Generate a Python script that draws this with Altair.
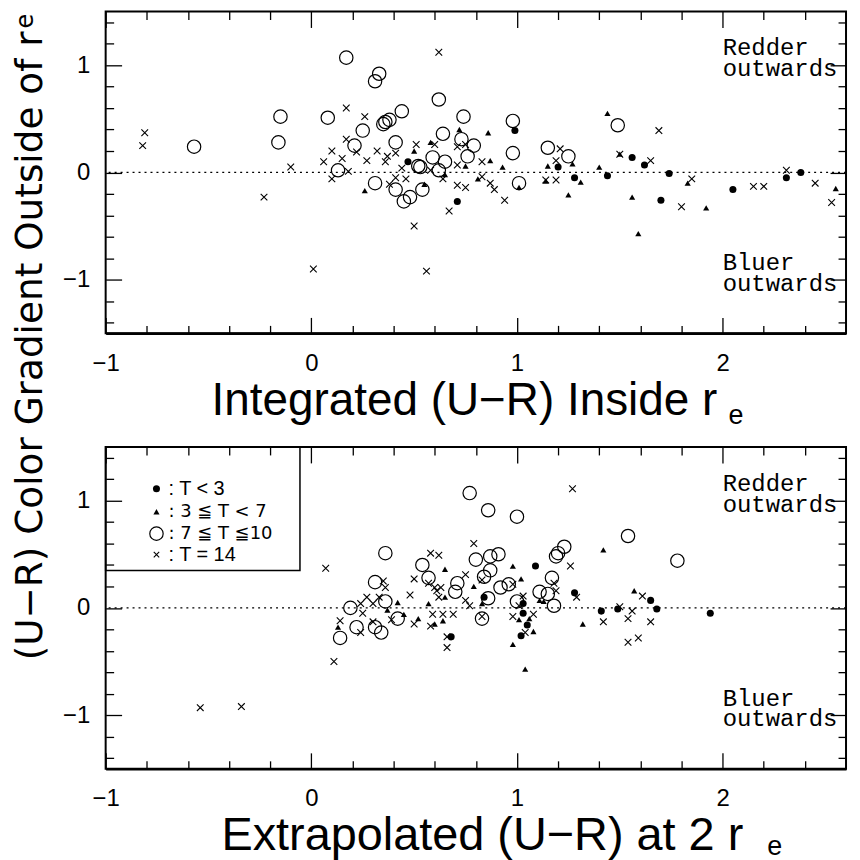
import altair as alt
import pandas as pd

# ---------------- data ----------------
# Top panel: Integrated (U-R) inside r_e  vs  colour gradient outside r_e
top_e_x = [0.47, 0.71, 0.99, 1.20, 1.28, 1.44, 1.56, 1.62, 1.74, 1.70, 2.05, 2.31, 2.38]
top_e_y = [0.10, -0.27, 0.39, 0.05, -0.05, -0.03, 0.14, 0.07, -0.01, -0.26, -0.16, -0.05, 0.00]

top_s_x = [0.26, 0.50, 0.55, 0.58, 0.65, 0.72, 0.75, 0.81, 0.86, 0.87, 0.93, 1.01, 1.14,
           1.15, 1.25, 1.27, 1.31, 1.40, 1.44, 1.50, 1.56, 1.59, 1.83, 1.92, 2.55]
top_s_y = [-0.17, 0.20, -0.11, 0.28, -0.02, 0.40, 0.06, -0.06, 0.37, 0.11, 0.05, -0.14, -0.08,
           0.06, -0.21, 0.08, -0.09, 0.05, 0.55, 0.17, -0.23, -0.57, -0.10, -0.33, -0.15]

top_l_x = [-0.57, -0.16, -0.15, 0.08, 0.13, 0.17, 0.21, 0.25, 0.31, 0.31, 0.33, 0.35, 0.36,
           0.38, 0.41, 0.41, 0.44, 0.45, 0.48, 0.52, 0.53, 0.54, 0.59, 0.62, 0.62, 0.64,
           0.65, 0.73, 0.74, 0.76, 0.79, 0.98, 0.98, 1.01, 1.15, 1.25, 1.49]
top_l_y = [0.24, 0.28, 0.52, 0.51, 0.02, 1.07, 0.25, 0.39, -0.10, 0.85, 0.92, 0.45, 0.47,
           0.49, 0.28, -0.16, 0.57, -0.27, -0.23, 0.06, 0.05, -0.16, 0.14, 0.68, 0.02, 0.36,
           0.10, 0.31, 0.52, 0.15, 0.25, 0.48, 0.18, -0.10, 0.23, 0.15, 0.44]

top_i_x = [-0.81, -0.82, -0.23, -0.10, 0.01, 0.06, 0.10, 0.10, 0.15, 0.17, 0.17, 0.18, 0.22,
           0.26, 0.27, 0.32, 0.36, 0.37, 0.38, 0.41, 0.41, 0.44, 0.46, 0.50, 0.51, 0.56,
           0.58, 0.60, 0.62, 0.64, 0.67, 0.71, 0.71, 0.71, 0.75, 0.75, 0.83, 0.83, 0.87,
           0.89, 0.94, 1.14, 1.19, 1.19, 1.21, 1.50, 1.65, 1.69, 1.80, 1.85, 2.15, 2.20,
           2.31, 2.45, 2.53]
top_i_y = [0.37, 0.25, -0.23, 0.05, -0.90, 0.10, 0.20, -0.06, 0.13, 0.60, 0.31, 0.01, 0.19,
           0.52, 0.11, 0.20, 0.10, 0.15, -0.11, 0.18, -0.05, 0.04, -0.06, -0.50, 0.26, -0.92,
           0.02, 0.26, 1.12, -0.06, -0.36, 0.07, -0.12, 0.24, -0.14, 0.26, 0.10, -0.04, -0.10,
           -0.16, -0.26, -0.07, -0.07, 0.11, 0.22, 0.17, 0.11, 0.39, -0.32, -0.06, -0.13, -0.13,
           0.02, -0.10, -0.28]

# Bottom panel: Extrapolated (U-R) at 2 r_e
bot_e_x = [0.68, 0.84, 1.09, 1.03, 1.03, 1.05, 1.02, 1.28, 1.41, 1.49, 1.65, 1.68, 1.94]
bot_e_y = [-0.27, 0.10, 0.39, 0.04, -0.05, -0.16, -0.26, 0.14, -0.03, -0.01, 0.07, -0.01, -0.05]

bot_s_x = [0.13, 0.37, 0.42, 0.45, 0.52, 0.57, 0.60, 0.64, 0.65, 0.65, 0.79, 0.83, 0.98,
           1.02, 1.01, 1.06, 0.98, 1.04, 1.08, 1.11, 1.13, 1.32, 1.42, 1.57]
bot_s_y = [-0.18, -0.02, 0.05, -0.06, -0.10, 0.04, -0.15, -0.12, 0.10, 0.36, 0.20, 0.04, 0.39,
           0.27, -0.11, -0.10, -0.34, -0.57, -0.22, 0.07, 0.06, -0.15, 0.54, 0.16]

bot_l_x = [0.14, 0.19, 0.22, 0.31, 0.34, 0.31, 0.36, 0.36, 0.42, 0.54, 0.57, 0.70, 0.71,
           0.77, 0.80, 0.83, 0.86, 1.00, 0.87, 0.91, 0.87, 0.84, 0.86, 0.92, 0.96, 1.00,
           1.17, 1.11, 1.15, 1.18, 1.19, 1.20, 1.23, 1.54, 1.78]
bot_l_y = [-0.28, 0.00, -0.18, -0.18, -0.23, 0.24, 0.06, 0.51, -0.10, 0.40, 0.28, 0.15, 0.23,
           1.07, 0.45, -0.10, 0.91, 0.85, 0.48, 0.50, 0.35, 0.29, 0.09, 0.19, 0.22, 0.06,
           0.28, 0.15, 0.13, 0.02, 0.48, 0.51, 0.57, 0.67, 0.44]

bot_i_x = [-0.54, -0.34, 0.07, 0.11, 0.14, 0.24, 0.25, 0.24, 0.27, 0.30, 0.30, 0.33, 0.35,
           0.36, 0.39, 0.48, 0.50, 0.50, 0.58, 0.62, 0.57, 0.60, 0.61, 0.63, 0.62, 0.59,
           0.64, 0.69, 0.58, 0.66, 0.66, 0.75, 0.75, 0.77, 0.79, 0.83, 0.83, 0.98, 1.03,
           0.98, 1.01, 1.08, 1.04, 1.27, 1.26, 1.18, 1.19, 1.29, 1.42, 1.50, 1.56, 1.54,
           1.61, 1.65, 1.54, 1.59]
bot_i_y = [-0.93, -0.92, 0.37, -0.50, -0.12, 0.04, -0.05, -0.23, 0.10, 0.04, -0.13, 0.10, 0.25,
           0.19, -0.11, 0.12, 0.27, -0.15, 0.51, 0.49, 0.23, 0.19, 0.16, 0.19, 0.10, -0.06,
           -0.06, -0.06, -0.17, -0.37, -0.27, 0.31, 0.07, 0.02, 0.60, 0.26, -0.08, 0.22, 0.11,
           -0.08, 0.02, -0.06, -0.23, 1.11, 0.39, 0.23, 0.16, 0.10, -0.13, 0.01, -0.03, -0.10,
           0.11, -0.13, -0.32, -0.28]

x_major = [-1, 0, 1, 2]
x_minor = [-0.8, -0.6, -0.4, -0.2, 0.2, 0.4, 0.6, 0.8, 1.2, 1.4, 1.6, 1.8, 2.2, 2.4]
y_major = [-1, 0, 1]
y_minor = [-1.4, -1.2, -0.8, -0.6, -0.4, -0.2, 0.2, 0.4, 0.6, 0.8, 1.2, 1.4]

legend_labels = [": T < 3", ":  3  \u2266  T  <  7", ":  7  \u2266  T  \u226610", ": T = 14"]
redder_text = ["Redder", "outwards"]
bluer_text = ["Bluer", "outwards"]

CROSS = "M-1,-1L1,1M-1,1L1,-1"
W, H = 743, 323

xsc = alt.Scale(domain=[-1, 2.6], nice=False, zero=False)
ysc = alt.Scale(domain=[-1.5, 1.5], nice=False, zero=False)
one = pd.DataFrame({"x": [0.0], "y": [0.0]})

NARROW = "Liberation Sans"
WIDE = "DejaVu Sans"
MONO = "Liberation Mono"


def pts(xs, ys, **mk):
    return alt.Chart(pd.DataFrame({"x": xs, "y": ys})).mark_point(opacity=1, color="black", **mk).encode(
        x=alt.X("x:Q", scale=xsc, axis=None),
        y=alt.Y("y:Q", scale=ysc, axis=None),
    )


def axis_layer(xaxis, yaxis):
    return alt.Chart(one).mark_point(opacity=0).encode(
        x=alt.X("x:Q", scale=xsc, axis=xaxis),
        y=alt.Y("y:Q", scale=ysc, axis=yaxis),
    )


def tick_axis(orient, values, size):
    return alt.Axis(orient=orient, values=values, labels=False, domain=False, ticks=True,
                    tickSize=size, tickWidth=1.3, tickColor="black", offset=-size,
                    grid=False, title=None, zindex=1)


def label_axis_x():
    return alt.Axis(orient="bottom", values=x_major, format="d", ticks=False, tickSize=0,
                    domain=True, domainColor="black", domainWidth=2.5, grid=False, title=None,
                    labelFont=NARROW, labelFontSize=24, labelColor="black", labelPadding=18,
                    labelFlush=False, labelOverlap=False)


def label_axis_y():
    return alt.Axis(orient="left", values=y_major, format="d", ticks=False, tickSize=0,
                    domain=False, grid=False, title=None,
                    labelFont=NARROW, labelFontSize=24, labelColor="black", labelPadding=16,
                    labelFlush=False, labelOverlap=False)


def txt_value(text, x, y, font, size, align="left", baseline="alphabetic", angle=0):
    mk = dict(text=text, font=font, fontSize=size, align=align, baseline=baseline, color="black")
    if angle:
        mk["angle"] = angle
    return alt.Chart(one).mark_text(**mk).encode(x=alt.value(x), y=alt.value(y))


def txt_datum(lines, x, y, font, size):
    return alt.Chart(one).mark_text(text=lines, font=font, fontSize=size, align="left",
                                    baseline="alphabetic", lineHeight=21, color="black").encode(
        x=alt.XDatum(x, scale=xsc, axis=None),
        y=alt.YDatum(y, scale=ysc, axis=None),
    )


def panel(e, s, l, i, extra):
    zero = alt.Chart(one).mark_rule(color="black", strokeDash=[2, 4], strokeWidth=1.2).encode(
        y=alt.YDatum(0, scale=ysc, axis=None))
    layers = [
        axis_layer(label_axis_x(), label_axis_y()),
        axis_layer(tick_axis("bottom", x_major, 16), tick_axis("left", y_major, 16)),
        axis_layer(tick_axis("bottom", x_minor, 8), tick_axis("left", y_minor, 8)),
        axis_layer(tick_axis("top", x_major, 16), tick_axis("right", y_major, 16)),
        axis_layer(tick_axis("top", x_minor, 8), tick_axis("right", y_minor, 8)),
        zero,
        pts(l[0], l[1], shape="circle", filled=False, size=180, strokeWidth=1.2),
        pts(i[0], i[1], shape=CROSS, filled=False, size=45, strokeWidth=1.1),
        pts(s[0], s[1], shape="triangle-up", filled=True, size=38),
        pts(e[0], e[1], shape="circle", filled=True, size=50),
        txt_datum(redder_text, 2.0, 1.09, MONO, 24),
        txt_datum(bluer_text, 2.0, -0.91, MONO, 24),
    ] + extra
    return alt.layer(*layers).resolve_axis(x="independent", y="independent").properties(
        width=W, height=H)


top_extra = [
    txt_value("Integrated (U\u2212R) Inside r", 360, 405, NARROW, 46, align="center"),
    txt_value("e", 625, 414, NARROW, 27),
    txt_value("(U\u2212R) Color Gradient Outside of r", -64, 20, WIDE, 37.5,
              align="right", angle=270),
    txt_value("e", -73, 17, WIDE, 24, align="left", angle=270),
]

legend_box = alt.Chart(one).mark_rect(filled=False, stroke="black", strokeWidth=1.5).encode(
    x=alt.value(0), x2=alt.value(195), y=alt.value(0), y2=alt.value(124))


def leg_sym(y, **mk):
    return alt.Chart(one).mark_point(opacity=1, color="black", **mk).encode(
        x=alt.value(51), y=alt.value(y))


bottom_extra = [
    txt_value("Extrapolated (U\u2212R) at 2 r", 378, 404, NARROW, 47, align="center"),
    txt_value("e", 664, 409, NARROW, 27),
    legend_box,
    leg_sym(42, shape="circle", filled=True, size=50),
    leg_sym(65, shape="triangle-up", filled=True, size=38),
    leg_sym(87, shape="circle", filled=False, size=180, strokeWidth=1.2),
    leg_sym(108, shape=CROSS, filled=False, size=30, strokeWidth=1.1),
    txt_value(legend_labels[0], 63, 42, NARROW, 20, baseline="middle"),
    txt_value(legend_labels[1], 63, 65, WIDE, 18, baseline="middle"),
    txt_value(legend_labels[2], 63, 87, WIDE, 18, baseline="middle"),
    txt_value(legend_labels[3], 63, 108, NARROW, 20, baseline="middle"),
]

top = panel((top_e_x, top_e_y), (top_s_x, top_s_y), (top_l_x, top_l_y), (top_i_x, top_i_y), top_extra)
bottom = panel((bot_e_x, bot_e_y), (bot_s_x, bot_s_y), (bot_l_x, bot_l_y), (bot_i_x, bot_i_y), bottom_extra)

chart = alt.vconcat(top, bottom, spacing=114, bounds="flush").properties(
    padding={"left": 3, "top": 0, "right": 4, "bottom": 0}
).configure_view(stroke="black", strokeWidth=2)

chart.save("out.html", embed_options={"renderer": "svg", "actions": False})
